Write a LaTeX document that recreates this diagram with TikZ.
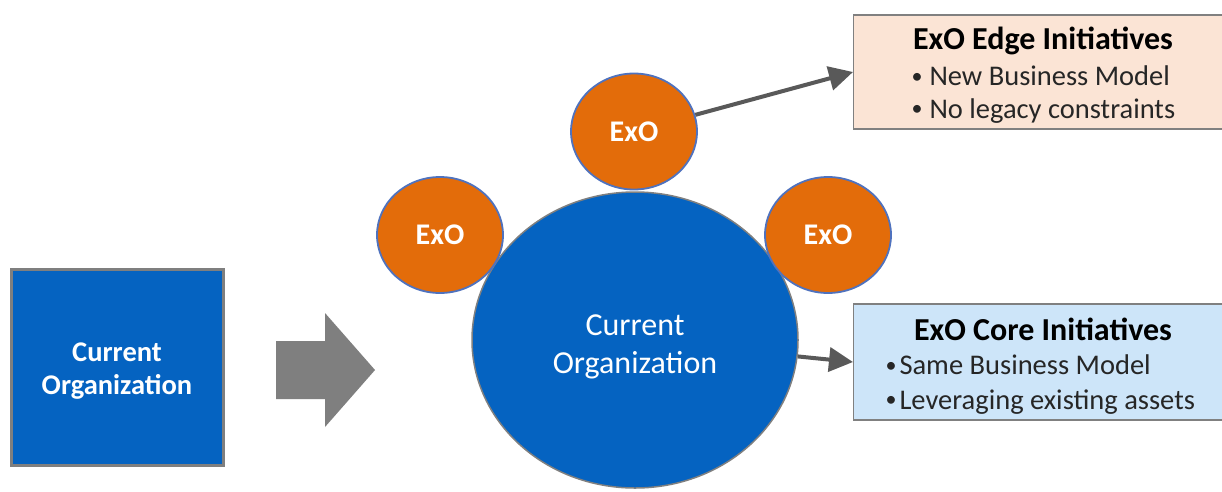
\documentclass[tikz,border=0pt]{standalone}
\usepackage{fontspec}
\setmainfont{Carlito}
\usetikzlibrary{shapes.geometric,arrows.meta}
\definecolor{orgblue}{RGB}{5,99,193}
\definecolor{exoorange}{RGB}{227,108,10}
\definecolor{exoborder}{RGB}{79,114,190}
\definecolor{peach}{RGB}{251,228,213}
\definecolor{lightblue}{RGB}{205,229,249}
\definecolor{arrowgray}{RGB}{89,89,89}
\definecolor{blockgray}{RGB}{127,127,127}
\definecolor{boxborder}{RGB}{128,128,128}
\definecolor{bullettext}{RGB}{38,38,38}
\newcommand{\mybul}{\raisebox{2.5pt}{\fontsize{22}{33}\selectfont•}}
\tikzset{
  exo/.style={ellipse, fill=exoorange, draw=exoborder, line width=1.8pt,
    minimum width=126pt, minimum height=116pt, inner sep=0pt,
    text=white, font=\fontsize{30}{34}\selectfont\bfseries},
  initbox/.style={rectangle, draw=boxborder, line width=1.2pt, inner sep=0pt,
    minimum width=400pt, anchor=west},
  title/.style={font=\fontsize{32}{36}\selectfont\bfseries, text=black},
  bullet/.style={font=\fontsize{28.5}{33}\selectfont, text=bullettext, anchor=west},
  conn/.style={draw=arrowgray, line width=4pt,
    -{Triangle[length=24pt,width=24pt]}, shorten >=0pt}
}
\begin{document}
\begin{tikzpicture}[x=1pt,y=-1pt]
\clip (0,0) rectangle (1222,491);
\fill[white] (0,0) rectangle (1222,491);
% left square
\node (sq) [rectangle, fill=orgblue, draw=blockgray, line width=3pt,
  minimum width=212pt, minimum height=196pt, inner sep=0pt,
  text=white, align=center, font=\fontsize{28.5}{33}\selectfont\bfseries]
  at (117,367) {};
\node (sqtext) [text=white, align=center, font=\fontsize{28.5}{33}\selectfont\bfseries]
  at (117,371) {Current\\Organization};
% block arrow
\fill[blockgray] (276,341) -- (325,341) -- (325,313) -- (375,370)
  -- (325,427) -- (325,399) -- (276,399) -- cycle;
% big circle
\node (big) [ellipse, fill=orgblue, draw=boxborder, line width=1.5pt,
  minimum width=326pt, minimum height=296pt, inner sep=0pt] at (635,340) {};
\node (bigtext) [text=white, align=center, font=\fontsize{32}{38}\selectfont]
  at (635,347) {Current\\Organization};
% ExO circles
\node (exotop) [exo] at (634,131.5) {ExO};
\node (exoleft) [exo] at (440,235) {ExO};
\node (exoright) [exo] at (828,235) {ExO};
% boxes
\node (edge) [initbox, fill=peach, minimum height=114pt] at (853,72) {};
\node (core) [initbox, fill=lightblue, minimum height=116pt] at (853,362) {};
\node (edgetitle) [title] at (1043,41) {ExO Edge Initiatives};
\node (edgeb1) [bullet] at (908,76) {\mybul\hspace{7pt}New Business Model};
\node (edgeb2) [bullet] at (908,111) {\mybul\hspace{7pt}No legacy constraints};
\node (coretitle) [title] at (1043,329) {ExO Core Initiatives};
\node (coreb1) [bullet] at (882,365) {\mybul\hspace{3pt}Same Business Model};
\node (coreb2) [bullet] at (882,402) {\mybul\hspace{3pt}Leveraging existing assets};
% connectors
\draw[conn] (exotop) -- (edge.west);
\draw[conn] (big) -- (core.west);
\end{tikzpicture}
\end{document}
